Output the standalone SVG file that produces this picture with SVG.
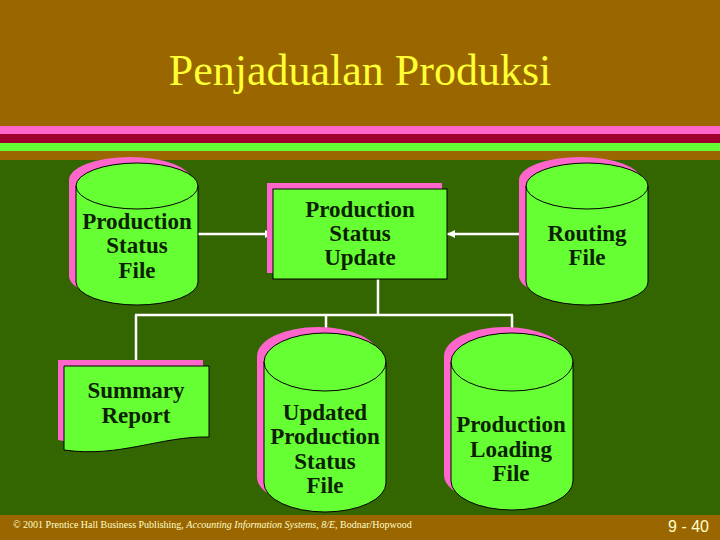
<svg xmlns="http://www.w3.org/2000/svg" width="720" height="540" viewBox="0 0 720 540">
<defs>
<style>
.title{font-family:"Liberation Serif","Times New Roman",serif;font-size:44px;fill:#FFFF33;text-anchor:middle}
.lbl{font-family:"Liberation Serif","Times New Roman",serif;font-size:23px;font-weight:bold;fill:#0A2200;text-anchor:middle}
.node{fill:#66FF33;stroke:#000;stroke-width:1}
.shadow{fill:#FF66CC}
.top{fill:none;stroke:#000;stroke-width:1}
.conn{stroke:#FFFFFF;stroke-width:2.5;fill:none}
.foot{font-family:"Liberation Serif","Times New Roman",serif;font-size:11px;fill:#FFFFCC}
.page{font-family:"Liberation Sans",Arial,sans-serif;font-size:16px;fill:#FFFFCC}
</style>
<marker id="arr" viewBox="0 0 8 8" refX="8" refY="4" markerWidth="8" markerHeight="8" markerUnits="userSpaceOnUse" orient="auto">
<path d="M0,0 L8,4 L0,8 Z" fill="#FFFFFF"/>
</marker>
</defs>
<!-- background -->
<rect x="0" y="0" width="720" height="540" fill="#336600"/>
<rect x="0" y="0" width="720" height="126" fill="#996600"/>
<rect x="0" y="126" width="720" height="8" fill="#FF66CC"/>
<rect x="0" y="134" width="720" height="9" fill="#A00030"/>
<rect x="0" y="143" width="720" height="8" fill="#66FF33"/>
<rect x="0" y="151" width="720" height="9" fill="#996600"/>
<rect x="0" y="515" width="720" height="25" fill="#996600"/>
<text class="title" x="360" y="85">Penjadualan Produksi</text>

<g id="connectors">
<line class="conn" x1="198" y1="234" x2="273" y2="234" marker-end="url(#arr)"/>
<line class="conn" x1="526" y1="234" x2="447" y2="234" marker-end="url(#arr)"/>
<polyline class="conn" points="378,279 378,315"/>
<line class="conn" x1="135" y1="315" x2="513" y2="315"/>
<line class="conn" x1="136" y1="315" x2="136" y2="366"/>
<line class="conn" x1="326" y1="315" x2="326" y2="333"/>
<line class="conn" x1="512" y1="315" x2="512" y2="333"/>
</g>

<g id="production-status-file">
<path class="shadow" d="M69,180 A61,23 0 0 1 191,180 V276 A61,23 0 0 1 69,276 Z"/>
<path class="node" d="M76,186 A61,23 0 0 1 198,186 V282 A61,23 0 0 1 76,282 Z"/>
<path class="top" d="M76,186 A61,23 0 0 0 198,186"/>
<text class="lbl" x="137" y="229">Production</text>
<text class="lbl" x="137" y="253">Status</text>
<text class="lbl" x="137" y="278">File</text>
</g>

<g id="production-status-update">
<rect class="shadow" x="267" y="183" width="175" height="90"/>
<rect class="node" x="273" y="189" width="174" height="90"/>
<text class="lbl" x="360" y="217">Production</text>
<text class="lbl" x="360" y="241">Status</text>
<text class="lbl" x="360" y="265">Update</text>
</g>

<g id="routing-file">
<path class="shadow" d="M519,180 A61,23 0 0 1 641,180 V276 A61,23 0 0 1 519,276 Z"/>
<path class="node" d="M526,186 A61,23 0 0 1 648,186 V282 A61,23 0 0 1 526,282 Z"/>
<path class="top" d="M526,186 A61,23 0 0 0 648,186"/>
<text class="lbl" x="587" y="241">Routing</text>
<text class="lbl" x="587" y="265">File</text>
</g>

<g id="summary-report">
<path class="shadow" d="M58,360 H203 V432 C150,432 110,450 58,440 Z"/>
<path class="node" d="M64,366 H209 V437 C160,436 120,458 64,450 Z"/>
<text class="lbl" x="136" y="398">Summary</text>
<text class="lbl" x="136" y="423">Report</text>
</g>

<g id="updated-production-status-file">
<path class="shadow" d="M257,356 A61,29 0 0 1 379,356 V477 A61,29 0 0 1 257,477 Z"/>
<path class="node" d="M264,362 A61,29 0 0 1 386,362 V483 A61,29 0 0 1 264,483 Z"/>
<path class="top" d="M264,362 A61,29 0 0 0 386,362"/>
<text class="lbl" x="325" y="420">Updated</text>
<text class="lbl" x="325" y="444">Production</text>
<text class="lbl" x="325" y="469">Status</text>
<text class="lbl" x="325" y="493">File</text>
</g>

<g id="production-loading-file">
<path class="shadow" d="M444,356 A61,29 0 0 1 566,356 V475 A61,29 0 0 1 444,475 Z"/>
<path class="node" d="M451,362 A61,29 0 0 1 573,362 V481 A61,29 0 0 1 451,481 Z"/>
<path class="top" d="M451,362 A61,29 0 0 0 573,362"/>
<text class="lbl" x="511" y="432">Production</text>
<text class="lbl" x="511" y="457">Loading</text>
<text class="lbl" x="511" y="481">File</text>
</g>

<text class="foot" transform="translate(13,528) scale(0.91,1)" x="0" y="0">© 2001 Prentice Hall Business Publishing, <tspan font-style="italic">Accounting Information Systems, 8/E</tspan>, Bodnar/Hopwood</text>
<text class="page" x="709" y="532" text-anchor="end">9 - 40</text>
</svg>
